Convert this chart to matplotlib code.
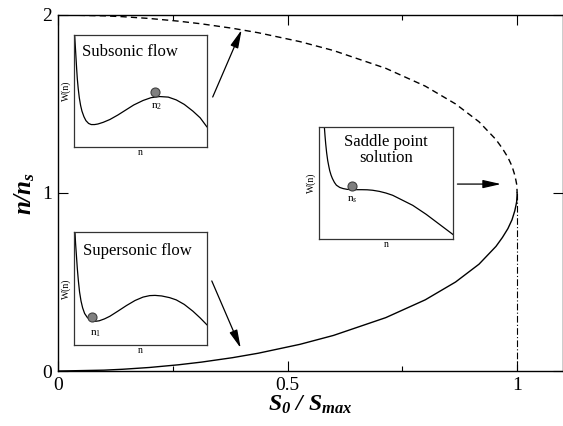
import matplotlib
matplotlib.use("Agg")
import matplotlib.pyplot as plt

plt.rcParams['font.family'] = ['Liberation Serif', 'DejaVu Serif']
plt.rcParams['mathtext.fontset'] = 'custom'
plt.rcParams['mathtext.rm'] = 'Liberation Serif'
plt.rcParams['mathtext.it'] = 'Liberation Serif:italic'
plt.rcParams['mathtext.bf'] = 'Liberation Serif:bold'
plt.rcParams['mathtext.bfit'] = 'Liberation Serif:italic:bold'

## Main curves
# lower (solid) branch: n/ns vs S0/Smax
n_lower = [0, 0.005, 0.01, 0.02, 0.035, 0.05, 0.075, 0.1, 0.15, 0.2, 0.3, 0.4,
           0.5, 0.6, 0.7, 0.75, 0.8, 0.85, 0.9, 0.93, 0.95, 0.97, 0.985, 1.0]
s_lower = [0, 0.10, 0.141, 0.199, 0.262, 0.312, 0.38, 0.436, 0.527, 0.60, 0.714, 0.80,
           0.866, 0.917, 0.954, 0.968, 0.98, 0.989, 0.995, 0.9975, 0.999, 0.9995, 0.9999, 1.0]
# upper (dashed) branch
n_upper = [2.0, 1.995, 1.99, 1.98, 1.965, 1.95, 1.925, 1.9, 1.85, 1.8, 1.7, 1.6,
           1.5, 1.4, 1.3, 1.25, 1.2, 1.15, 1.1, 1.07, 1.05, 1.03, 1.015, 1.0]
s_upper = [0, 0.10, 0.141, 0.199, 0.262, 0.312, 0.38, 0.436, 0.527, 0.60, 0.714, 0.80,
           0.866, 0.917, 0.954, 0.968, 0.98, 0.989, 0.995, 0.9975, 0.999, 0.9995, 0.9999, 1.0]
# vertical dash-dot line at S0 = Smax
s_vert = [1.0, 1.0]
n_vert = [0.0, 1.0]

x_ticks = [0, 0.5, 1]
x_ticklabels = ['0', '0.5', '1']
x_minor = [0.25, 0.75]
y_ticks = [0, 1, 2]
y_ticklabels = ['0', '1', '2']

## Inset potentials W(n), in box units
sub_x = [0.005, 0.01, 0.015, 0.02, 0.025, 0.032, 0.04, 0.05, 0.06, 0.075, 0.09, 0.11,
         0.13, 0.155, 0.18, 0.22, 0.27, 0.33, 0.39, 0.45, 0.52, 0.58, 0.645, 0.71,
         0.77, 0.83, 0.895, 0.95, 1.0]
sub_y = [1.0, 0.9, 0.8, 0.7, 0.61, 0.52, 0.44, 0.37, 0.32, 0.27, 0.235, 0.21,
         0.20, 0.20, 0.205, 0.22, 0.245, 0.285, 0.33, 0.375, 0.415, 0.44, 0.45, 0.445,
         0.42, 0.38, 0.32, 0.26, 0.18]
sup_x = [0.0075, 0.012, 0.018, 0.025, 0.033, 0.042, 0.053, 0.065, 0.08, 0.1, 0.12,
         0.14, 0.16, 0.19, 0.23, 0.27, 0.33, 0.395, 0.46, 0.52, 0.57, 0.61, 0.66,
         0.72, 0.77, 0.83, 0.895, 0.95, 1.0]
sup_y = [1.0, 0.9, 0.8, 0.68, 0.57, 0.47, 0.39, 0.33, 0.28, 0.245, 0.225,
         0.213, 0.21, 0.215, 0.232, 0.255, 0.30, 0.35, 0.395, 0.425, 0.438, 0.44, 0.435,
         0.42, 0.40, 0.36, 0.30, 0.24, 0.18]
sad_x = [0.04, 0.045, 0.05, 0.057, 0.065, 0.073, 0.08, 0.09, 0.10, 0.115, 0.13, 0.155,
         0.18, 0.21, 0.25, 0.29, 0.32, 0.36, 0.40, 0.45, 0.50, 0.55, 0.60, 0.65,
         0.70, 0.75, 0.80, 0.85, 0.90, 0.95, 1.0]
sad_y = [1.0, 0.92, 0.85, 0.77, 0.70, 0.65, 0.61, 0.57, 0.54, 0.505, 0.48, 0.46,
         0.45, 0.443, 0.44, 0.44, 0.44, 0.439, 0.435, 0.425, 0.41, 0.39, 0.36, 0.33,
         0.30, 0.26, 0.22, 0.175, 0.13, 0.085, 0.04]

fig = plt.figure(figsize=(5.63, 4.26), dpi=100)
ax = fig.add_axes([0.103, 0.129, 0.897, 0.836])

ax.plot(s_lower, n_lower, color='black', lw=1.0)
ax.plot(s_upper, n_upper, color='black', lw=1.0, linestyle=(0, (4.5, 3)))
ax.plot(s_vert, n_vert, color='black', lw=0.8, linestyle=(0, (6, 2, 1, 2)))

ax.set_xlim(0, 1.1)
ax.set_ylim(0, 2)
ax.set_xticks(x_ticks)
ax.set_xticklabels(x_ticklabels)
ax.set_xticks(x_minor, minor=True)
ax.set_yticks(y_ticks)
ax.set_yticklabels(y_ticklabels)
ax.tick_params(which='both', direction='in', top=True, right=True, labelsize=14, width=0.8)
ax.tick_params(which='major', length=7, pad=4)
ax.tick_params(which='minor', length=3.5)
for sp in ax.spines.values():
    sp.set_linewidth(1.0)

ax.set_xlabel(r'$\mathbfit{S_0\ /\ S_{max}}$', fontsize=17, labelpad=0)
ax.set_ylabel(r'$\mathbfit{n/n_s}$', fontsize=18, labelpad=4)

# arrows from the insets to the curves
arrow_props = dict(arrowstyle='-|>,head_length=1.1,head_width=0.25', color='black',
                   lw=0.9, shrinkA=0, shrinkB=0, mutation_scale=10)
ax.annotate('', xy=(0.400, 1.916), xytext=(0.337, 1.539), arrowprops=arrow_props)
ax.annotate('', xy=(0.398, 0.129), xytext=(0.335, 0.506), arrowprops=arrow_props)
ax.annotate('', xy=(0.965, 1.05), xytext=(0.870, 1.05), arrowprops=arrow_props)


def draw_inset(rect, xs, ys, title, ball, label, label_pos, title_pos):
    ins = fig.add_axes(rect)
    ins.plot(xs, ys, color='black', lw=0.9)
    ins.plot([ball[0]], [ball[1]], 'o', ms=6.5, mfc='#808080', mec='#404040', mew=0.8)
    ins.text(label_pos[0], label_pos[1], label, fontsize=8, ha='center', va='center')
    ins.text(title_pos[0], title_pos[1], title, fontsize=12, ha='center', va='center',
             linespacing=1.0)
    ins.set_xlim(0, 1)
    ins.set_ylim(0, 1)
    ins.set_xticks([])
    ins.set_yticks([])
    ins.set_xlabel('n', fontsize=7, labelpad=1)
    ins.set_ylabel('W(n)', fontsize=7, labelpad=2)
    for sp in ins.spines.values():
        sp.set_linewidth(0.9)
        sp.set_color('#333333')
    return ins


draw_inset([0.1314, 0.655, 0.236, 0.263], sub_x, sub_y, 'Subsonic flow',
           (0.61, 0.49), r'n$_2$', (0.62, 0.36), (0.42, 0.85))
draw_inset([0.1314, 0.190, 0.236, 0.265], sup_x, sup_y, 'Supersonic flow',
           (0.1375, 0.25), r'n$_1$', (0.165, 0.10), (0.48, 0.83))
draw_inset([0.5666, 0.439, 0.238, 0.263], sad_x, sad_y, 'Saddle point\nsolution',
           (0.25, 0.475), r'n$_s$', (0.25, 0.35), (0.50, 0.79))

fig.savefig('out.png', dpi=100)
